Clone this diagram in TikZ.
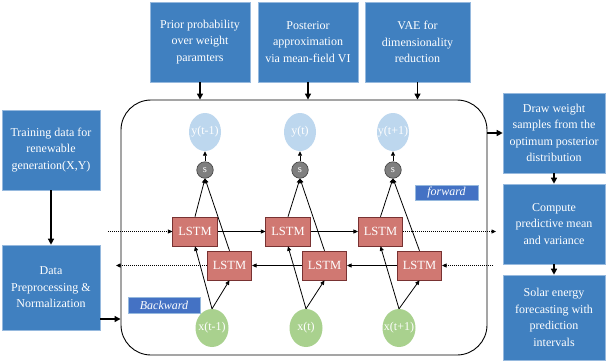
\documentclass[tikz,border=0pt]{standalone}
\usepackage{fontspec}
\setmainfont{Liberation Serif}
\usetikzlibrary{arrows.meta,shapes.geometric}
\definecolor{boxblue}{RGB}{64,128,192}
\definecolor{boxedge}{RGB}{150,185,222}
\definecolor{lstmfill}{RGB}{208,120,114}
\definecolor{lstmedge}{RGB}{120,50,50}
\definecolor{ynode}{RGB}{189,215,238}
\definecolor{xnode}{RGB}{169,209,142}
\definecolor{snode}{RGB}{127,127,127}
\definecolor{tagblue}{RGB}{68,114,196}
\tikzset{
  bluebox/.style={draw=boxedge, line width=0.6pt, fill=boxblue, text=white, align=center,
    font=\fontsize{12}{16.5}\selectfont, inner sep=0pt},
  lstmbox/.style={draw=lstmedge, line width=0.6pt, fill=lstmfill, text=white,
    minimum width=44.5pt, minimum height=29pt, inner sep=0pt, font=\fontsize{12.5}{14}\selectfont},
  ynd/.style={ellipse, fill=ynode, minimum width=32pt, minimum height=38pt, inner sep=0pt},
  xnd/.style={ellipse, fill=xnode, minimum width=33pt, minimum height=38pt, inner sep=0pt},
  snd/.style={circle, draw=black!75, fill=snode, minimum size=16.5pt, inner sep=0pt, line width=0.6pt,
    text=white, font=\fontsize{10.5}{11}\selectfont},
  tagbox/.style={draw=boxedge, fill=tagblue, text=white, inner sep=0pt, line width=0.5pt,
    font=\fontsize{12}{14}\selectfont\itshape},
  bigarr/.style={line width=1.3pt, -{Triangle[length=6pt,width=6pt]}},
  smallarr/.style={line width=0.8pt, -{Triangle[length=4.5pt,width=4pt]}},
  thinln/.style={line width=0.8pt},
  dotarr/.style={line width=0.8pt, dash pattern=on 1pt off 1pt, -{Triangle[length=4.5pt,width=4pt]}},
  dotln/.style={line width=0.8pt, dash pattern=on 1pt off 1pt},
  lbl/.style={text=white, font=\fontsize{12}{14}\selectfont}
}
\begin{document}
\begin{tikzpicture}[x=1pt,y=-1pt]
\useasboundingbox (0,0) rectangle (608,360);
\fill[white] (0,0) rectangle (608,360);

% frame
\node[draw, line width=0.9pt, rounded corners=30pt, minimum width=366pt, minimum height=255pt, inner sep=0pt] (frame) at (304,227.5) {};

% top boxes
\node[bluebox, minimum width=100pt, minimum height=80pt] (tb1) at (200,42) {Prior probability\\over weight\\paramters};
\node[bluebox, minimum width=100pt, minimum height=80pt] (tb2) at (308,42) {Posterior\\approximation\\via mean-field VI};
\node[bluebox, minimum width=105pt, minimum height=80pt] (tb3) at (417.5,42) {VAE for\\dimensionality\\reduction};
\draw[bigarr] (tb1.south) -- (tb1.south |- frame.north);
\draw[bigarr] (tb2.south) -- (tb2.south |- frame.north);
\draw[bigarr] (tb3.south) -- (tb3.south |- frame.north);

% left boxes
\node[bluebox, minimum width=98pt, minimum height=80pt] (lb1) at (51,150) {Training data for\\renewable\\generation(X,Y)};
\node[bluebox, minimum width=98pt, minimum height=85pt] (lb2) at (51,287.5) {Data\\Preprocessing \&\\Normalization};
\draw[bigarr] (lb1.south) -- (lb2.north);
\draw[bigarr] (lb2.east |- 0,319) -- (frame.west |- 0,319);

% right boxes
\node[bluebox, minimum width=102pt, minimum height=80pt] (rb1) at (554,133) {Draw weight\\samples from the\\optimum posterior\\distribution};
\node[bluebox, minimum width=102pt, minimum height=80pt] (rb2) at (554,224) {Compute\\predictive mean\\and variance};
\node[bluebox, minimum width=102pt, minimum height=85pt] (rb3) at (554,317.5) {Solar energy\\forecasting with\\prediction\\intervals};
\draw[bigarr] (frame.east |- rb1.west) -- (rb1.west);
\draw[bigarr] (rb1.south) -- (rb2.north);
\draw[bigarr] (rb2.south) -- (rb3.north);

% output nodes
\node[ynd, label={[lbl]center:y(t-1)}] (y1) at (205,132) {};
\node[ynd, label={[lbl]center:y(t)}] (y2) at (300,132) {};
\node[ynd, label={[lbl]center:y(t+1)}] (y3) at (393,132) {};
\node[snd] (s1) at (205,170) {s};
\node[snd] (s2) at (300,170) {s};
\node[snd] (s3) at (393,170) {s};
\draw[smallarr] (s1.north) -- (y1.south);
\draw[smallarr] (s2.north) -- (y2.south);
\draw[smallarr] (s3.north) -- (y3.south);

% LSTM boxes
\node[lstmbox] (u1) at (195,231.5) {LSTM};
\node[lstmbox] (u2) at (288,231.5) {LSTM};
\node[lstmbox] (u3) at (380.5,231.5) {LSTM};
\node[lstmbox] (l1) at (229.5,265.5) {LSTM};
\node[lstmbox] (l2) at (324.5,265.5) {LSTM};
\node[lstmbox] (l3) at (419.5,265.5) {LSTM};

% input nodes
\node[xnd, label={[lbl]center:x(t-1)}] (x1) at (212,328) {};
\node[xnd, label={[lbl]center:x(t)}] (x2) at (306,328) {};
\node[xnd, label={[lbl]center:x(t+1)}] (x3) at (399,328) {};

% inputs to LSTMs
\draw[smallarr] (x1.north) -- (u1.south);
\draw[smallarr] (x1.north) -- (l1.south);
\draw[smallarr] (x2.north) -- (u2.south);
\draw[smallarr] (x2.north) -- (l2.south);
\draw[smallarr] (x3.north) -- (u3.south);
\draw[smallarr] (x3.north) -- (l3.south);

% LSTMs to s
\draw[smallarr] (u1.north) -- (s1.south);
\draw[smallarr] (l1.north) -- (s1.south);
\draw[smallarr] (u2.north) -- (s2.south);
\draw[smallarr] (l2.north) -- (s2.south);
\draw[smallarr] (u3.north) -- (s3.south);
\draw[smallarr] (l3.north) -- (s3.south);

% forward row
\coordinate (fin) at (108,231.5);
\coordinate (fout) at (496,231.5);
\draw[dotarr] (fin) -- (u1.west);
\draw[smallarr] (u1.east) -- (u2.west);
\draw[smallarr] (u2.east) -- (u3.west);
\draw[dotarr] (u3.east) -- (fout);

% backward row
\coordinate (bin) at (493,265.5);
\coordinate (bout) at (116,265.5);
\draw[dotarr] (bin) -- (l3.east);
\draw[smallarr] (l3.west) -- (l2.east);
\draw[smallarr] (l2.west) -- (l1.east);
\draw[dotarr] (l1.west) -- (bout);

% tags
\node[tagbox, minimum width=63pt, minimum height=15pt] (fwd) at (446.5,192.5) {forward};
\node[tagbox, minimum width=72pt, minimum height=16pt] (bwd) at (164,305) {Backward};
\end{tikzpicture}
\end{document}
